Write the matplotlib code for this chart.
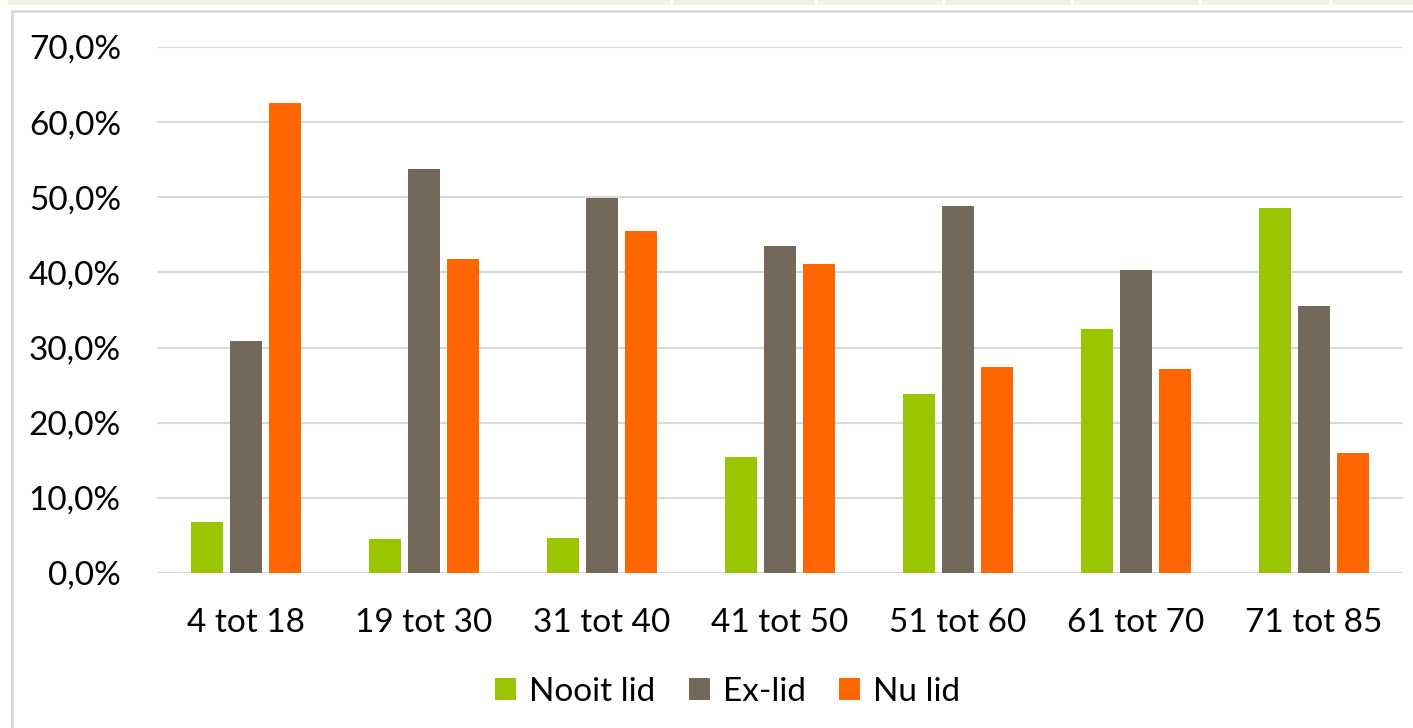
import numpy as np
import matplotlib
matplotlib.use("Agg")
import matplotlib.pyplot as plt
from matplotlib.patches import Rectangle
from matplotlib.ticker import FuncFormatter

categories = ["4 tot 18", "19 tot 30", "31 tot 40", "41 tot 50",
              "51 tot 60", "61 tot 70", "71 tot 85"]
nooit_lid = [6.8, 4.5, 4.7, 15.4, 23.8, 32.5, 48.6]
ex_lid = [30.9, 53.8, 49.9, 43.5, 48.8, 40.3, 35.5]
nu_lid = [62.5, 41.8, 45.5, 41.1, 27.4, 27.1, 16.0]

series = [("Nooit lid", nooit_lid, "#99C600"),
          ("Ex-lid", ex_lid, "#73685A"),
          ("Nu lid", nu_lid, "#FF6600")]

plt.rcParams["font.family"] = ["Lato", "DejaVu Sans"]

W, H = 1413, 728
fig = plt.figure(figsize=(W / 100, H / 100), dpi=100)

# page decoration: light green table strip at top and chart border
strip_edges = [(8, 670), (673, 815), (818, 942), (945, 1071),
               (1074, 1199), (1202, 1329), (1332, 1413)]
for x0, x1 in strip_edges:
    fig.patches.append(Rectangle((x0 / W, 1 - 5 / H), (x1 - x0) / W, 5 / H,
                                 transform=fig.transFigure, color="#EEF4E4",
                                 lw=0))
fig.patches.append(Rectangle((12 / W, -0.01), 1.1, 1 - 11 / H + 0.01,
                             transform=fig.transFigure, fill=False,
                             edgecolor="#D9D9D9", lw=2))

ax = fig.add_axes([157 / W, 1 - 573 / H, (1403 - 157) / W, (573 - 47) / H])

x = np.arange(len(categories))
width = 0.18
step = 0.22
for i, (name, vals, col) in enumerate(series):
    ax.bar(x + (i - 1) * step, vals, width, color=col, label=name, zorder=3)

ax.set_xlim(-0.5, len(categories) - 0.5)
ax.set_ylim(0, 70)
ax.set_yticks(np.arange(0, 71, 10))
ax.yaxis.set_major_formatter(
    FuncFormatter(lambda v, p: f"{v:.1f}".replace(".", ",") + "%"))
ax.set_xticks(x)
ax.set_xticklabels(categories)
ax.grid(axis="y", color="#D9D9D9", lw=1.5, zorder=0)
for s in ax.spines.values():
    s.set_visible(False)
ax.tick_params(axis="both", length=0, labelsize=24, colors="black")
ax.tick_params(axis="y", pad=26)
ax.tick_params(axis="x", pad=25)

fig.legend(loc="center", bbox_to_anchor=(728 / W, 1 - 692 / H), ncol=3,
           frameon=False, fontsize=24, handlelength=0.62, handleheight=0.62,
           handletextpad=0.4, columnspacing=1.0)

fig.savefig("out.png", dpi=100)
